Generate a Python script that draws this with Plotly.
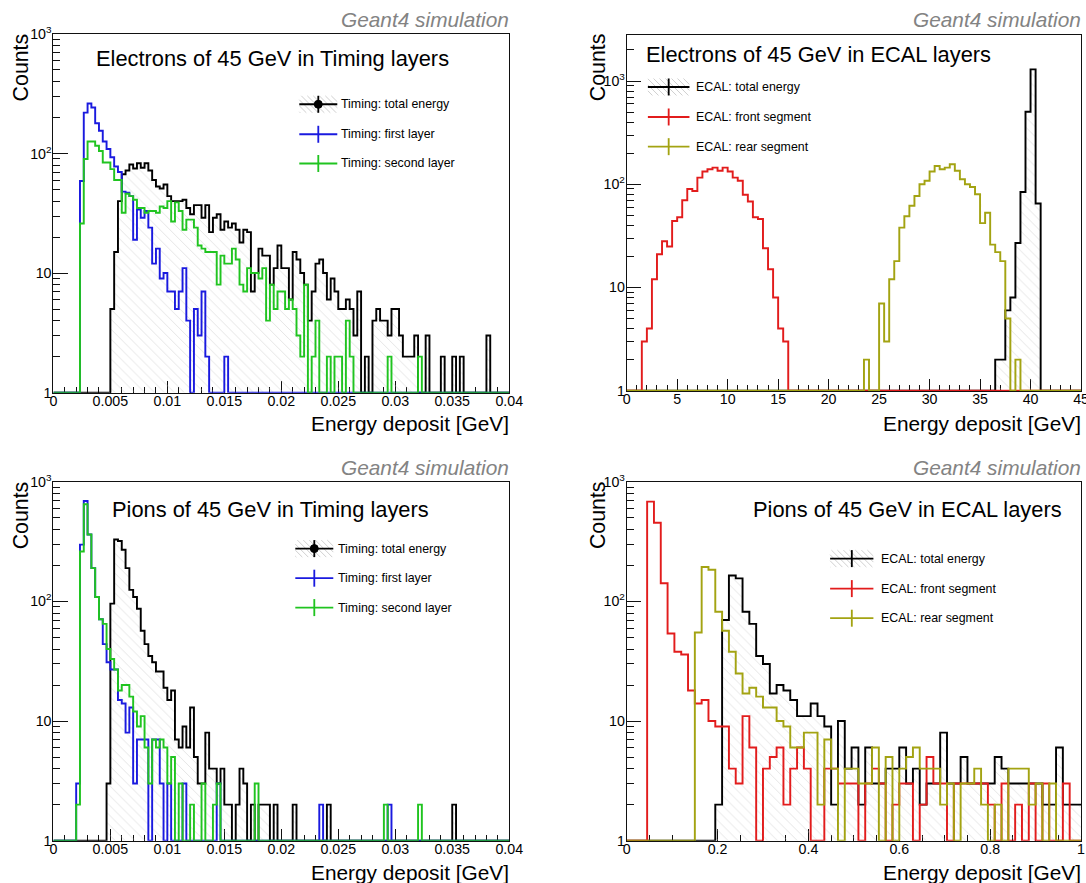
import numpy as np
import plotly.graph_objects as go

# Layout positions below are given in target-image pixels (1086x883).  The rendered page is
# observed to appear scaled by ~0.98 and shifted a few pixels, so target pixels are mapped
# to figure pixels through that measured transform.
SX, OXT = 0.984, 2.6
SY, OYT = 0.980, 9.0
W, H = 1102, 892
FONT = "Liberation Sans, Arial, Helvetica, sans-serif"

# ---------------------------------------------------------------- data
# Timing-layer histograms: 120 bins on [0, 0.04] GeV
TIM_BINS, TIM_MAX = 120, 0.04
# ECAL electrons: 90 bins on [0, 45] GeV
ECE_BINS, ECE_MAX = 90, 45.0
# ECAL pions: bins of 0.015 GeV, 67 bins (axis shown 0..1)
ECP_BINS, ECP_MAX = 67, 67 * 0.015

# Electrons 45 GeV, timing layers (counts per bin, starting bin index)
e_tim_total_start = 15
e_tim_total = [5, 15, 40, 67, 72, 81, 75, 83, 76, 83, 72, 60, 53, 51, 55, 44, 40, 40, 40, 41,
               35, 31, 37, 37, 29, 37, 22, 29, 31, 23, 27, 24, 26, 23, 18, 23, 22, 7, 10, 16,
               14, 14, 8, 11, 17, 11, 11, 6, 15, 13, 10, 8, 4, 7, 12, 13, 10, 6, 9, 7,
               5, 5, 6, 5, 3, 7, 0, 2, 0, 4, 5, 4, 4, 3, 5, 5, 3, 2, 2, 2,
               3, 0, 0, 3, 0, 0, 0, 2, 0, 0, 2, 0, 2, 0, 0, 0, 0, 0, 0, 3]
e_tim_first_start = 7
e_tim_first = [59, 220, 262, 243, 179, 155, 126, 109, 93, 78, 70, 48, 47, 44, 19, 34, 29, 33, 24, 12,
               16, 9, 10, 7, 7, 5, 7, 11, 4, 0, 5, 3, 7, 2, 0, 0, 0, 0, 2]
e_tim_second_start = 7
e_tim_second = [26, 90, 126, 126, 116, 105, 84, 84, 74, 60, 60, 32, 46, 44, 41, 35, 35, 32, 33, 33,
                32, 36, 35, 40, 27, 39, 33, 23, 28, 28, 24, 17, 16, 15, 15, 15, 8, 14, 12, 12,
                16, 13, 8, 7, 11, 10, 10, 9, 11, 4, 8, 5, 7, 7, 5, 6, 5, 3, 2, 8,
                0, 2, 4, 0, 0, 2, 0, 2, 2, 0, 4, 2, 0, 0, 0, 0, 0, 0, 0, 0,
                0, 2, 0, 0, 0, 0, 0, 0, 0, 2]

# Electrons 45 GeV, ECAL
e_ecal_total_start = 72
e_ecal_total = [1, 2, 2, 6, 8, 27, 84, 505, 1297, 65]
e_ecal_front_start = 3
e_ecal_front = [3, 4, 12, 21, 28, 25, 44, 48, 70, 90, 86, 116, 133, 140, 145, 135, 145, 133, 116, 108,
                79, 68, 48, 46, 24, 15, 8, 4, 3]
e_ecal_rear_start = 47
e_ecal_rear = [2, 0, 0, 7, 3, 12, 18, 38, 49, 62, 77, 100, 108, 133, 150, 140, 145, 156, 135, 112,
               100, 94, 80, 42, 53, 26, 22, 18, 5, 0, 2]

# Pions 45 GeV, timing layers
p_tim_total_start = 14
p_tim_total = [3, 96, 330, 320, 271, 190, 125, 109, 87, 57, 44, 35, 31, 26, 26, 19, 15, 18, 7, 6,
               9, 6, 13, 5, 3, 3, 8, 4, 4, 3, 4, 2, 2, 0, 2, 4, 3, 0, 2, 0,
               2, 2, 2, 0, 2, 0, 0, 0, 0, 2, 0, 0, 0, 0, 0, 0, 0, 0, 2, 0,
               0, 0, 0, 0, 0, 0, 0, 0, 0, 0, 0, 0, 0, 0, 0, 0, 0, 0, 0, 0,
               0, 0, 0, 0, 0, 0, 0, 0, 0, 0, 0, 2]
p_tim_first_start = 6
p_tim_first = [3, 299, 693, 363, 190, 109, 71, 44, 31, 27, 27, 15, 14, 8, 13, 3, 7, 7, 7, 0,
               7, 7, 3, 0, 3, 0, 0, 0, 3, 0, 0, 0, 0, 0, 0, 0, 0, 3, 0, 0,
               0, 0, 0, 0, 0, 0, 0, 0, 0, 0, 0, 0, 0, 0, 0, 0, 0, 0, 0, 0,
               0, 0, 0, 0, 2, 0, 0, 0, 0, 0, 0, 0, 0, 0, 0, 0, 0, 0, 0, 0,
               0, 0, 2]
p_tim_second_start = 6
p_tim_second = [2, 262, 650, 363, 190, 109, 71, 65, 40, 33, 27, 18, 20, 20, 16, 12, 9, 11, 6, 3,
                7, 6, 7, 6, 3, 5, 0, 3, 0, 0, 2, 0, 0, 3, 0, 0, 2, 3, 0, 0,
                0, 0, 0, 0, 0, 0, 0, 3, 0, 0, 0, 0, 0, 0, 0, 0, 0, 0, 0, 0,
                0, 0, 0, 0, 0, 0, 0, 0, 0, 0, 0, 0, 0, 0, 0, 0, 0, 0, 0, 0,
                0, 2, 0, 0, 0, 0, 0, 0, 0, 0, 2]

# Pions 45 GeV, ECAL
p_ecal_total_start = 13
p_ecal_total = [2, 70, 165, 156, 82, 65, 35, 30, 17, 20, 18, 15, 11, 11, 14, 11, 9, 2, 10, 4,
                6, 2, 6, 3, 3, 4, 4, 6, 3, 4, 2, 3, 3, 8, 3, 3, 5, 3, 3, 3,
                3, 5, 4, 3, 3, 3, 3, 3, 2, 2, 6, 2, 2, 2]
p_ecal_front_start = 3
p_ecal_front = [684, 455, 142, 54, 38, 36, 18, 14, 15, 10, 9, 9, 4, 3, 11, 6, 0, 4, 5, 6,
                2, 4, 6, 4, 0, 0, 4, 4, 3, 3, 3, 0, 3, 4, 3, 0, 2, 3, 3, 0,
                2, 5, 3, 3, 0, 3, 3, 3, 3, 3, 2, 0, 3, 0, 2, 0, 3, 0, 3, 0,
                0, 3, 0, 0]
p_ecal_rear_start = 10
p_ecal_rear = [55, 194, 184, 82, 57, 38, 25, 17, 19, 16, 13, 13, 10, 9, 6, 6, 8, 8, 2, 7,
               4, 0, 4, 4, 3, 3, 6, 0, 5, 0, 4, 5, 6, 4, 4, 4, 2, 3, 0, 3,
               3, 4, 2, 0, 2, 0, 4, 4, 4, 2, 3, 0, 3]

titles = ["Electrons of 45 GeV in Timing layers", "Electrons of 45 GeV in ECAL layers",
          "Pions of 45 GeV in Timing layers", "Pions of 45 GeV in ECAL layers"]
tim_labels = ["Timing: total energy", "Timing: first layer", "Timing: second layer"]
ecal_labels = ["ECAL: total energy", "ECAL: front segment", "ECAL: rear segment"]
x_title = "Energy deposit [GeV]"
y_title = "Counts"
tag = "Geant4 simulation"

# ---------------------------------------------------------------- styling
BLACK, BLUE, GREEN = "#000000", "#1a1adf", "#20c420"
RED, OLIVE = "#e21c1c", "#a3a312"
K = 1.0 / SX          # size compensation
LW = 1.9 * K


def fs(s):
    return s * K


def full(nbins, start, vals):
    a = np.zeros(nbins)
    a[start:start + len(vals)] = vals
    return a


def P(x):
    return min(max(((x - OXT) / SX) / W, 0.0), 1.0)


def Q(y):
    return min(max(1 - ((y - OYT) / SY) / H, 0.0), 1.0)


fig = go.Figure()

panels = [
    dict(ax="", nb=TIM_BINS, xmax=TIM_MAX, rng=[0, 0.04], dt=0.005, mdt=0.001, ytop=3.0,
         xd=[52, 508], yd=[33, 391.9],
         series=[(e_tim_total_start, e_tim_total, BLACK), (e_tim_first_start, e_tim_first, BLUE),
                 (e_tim_second_start, e_tim_second, GREEN)]),
    dict(ax="2", nb=ECE_BINS, xmax=ECE_MAX, rng=[0, 45], dt=5, mdt=1, ytop=3.446,
         xd=[625.5, 1080], yd=[34, 390],
         series=[(e_ecal_total_start, e_ecal_total, BLACK), (e_ecal_front_start, e_ecal_front, RED),
                 (e_ecal_rear_start, e_ecal_rear, OLIVE)]),
    dict(ax="3", nb=TIM_BINS, xmax=TIM_MAX, rng=[0, 0.04], dt=0.005, mdt=0.001, ytop=3.0,
         xd=[52, 508], yd=[481, 840],
         series=[(p_tim_total_start, p_tim_total, BLACK), (p_tim_first_start, p_tim_first, BLUE),
                 (p_tim_second_start, p_tim_second, GREEN)]),
    dict(ax="4", nb=ECP_BINS, xmax=ECP_MAX, rng=[0, 1], dt=0.2, mdt=0.05, ytop=3.0,
         xd=[625.5, 1080], yd=[481, 840],
         series=[(p_ecal_total_start, p_ecal_total, BLACK), (p_ecal_front_start, p_ecal_front, RED),
                 (p_ecal_rear_start, p_ecal_rear, OLIVE)]),
]

layout_axes = {}
for p in panels:
    a = p["ax"]
    xa, ya = "x" + a, "y" + a
    edges = np.linspace(0, p["xmax"], p["nb"] + 1)
    # baseline for hatched fill
    fig.add_trace(go.Scatter(x=[edges[0], edges[-1]], y=[1, 1], mode="lines",
                             line=dict(width=0, color="rgba(0,0,0,0)"), xaxis=xa, yaxis=ya,
                             showlegend=False, hoverinfo="skip"))
    for i, (start, vals, col) in enumerate(p["series"]):
        c = np.maximum(full(p["nb"], start, vals), 1.0)
        xs = np.concatenate([[edges[0]], edges[:-1], [edges[-1], edges[-1]]])
        ys = np.concatenate([[1.0], c, [c[-1], 1.0]])
        kw = {}
        if i == 0:
            kw = dict(fill="tonexty", fillcolor="rgba(0,0,0,0)",
                      fillpattern=dict(shape="\\", size=7, solidity=0.13, fgcolor="#c6c6c6",
                                       bgcolor="rgba(0,0,0,0)"))
        fig.add_trace(go.Scatter(x=xs, y=ys, mode="lines", line=dict(color=col, width=LW, shape="hv"),
                                 xaxis=xa, yaxis=ya, showlegend=False, hoverinfo="skip", **kw))

    ytop = p["ytop"]
    minor_vals = [m * 10 ** d for d in range(0, 4) for m in range(2, 10) if np.log10(m * 10 ** d) < ytop]
    layout_axes["xaxis" + a] = dict(
        domain=[P(p["xd"][0]), P(p["xd"][1])], range=p["rng"], anchor=ya,
        showline=True, linecolor="#111", linewidth=1, mirror=True, showgrid=False, zeroline=False,
        ticks="inside", ticklen=12 * K, tickcolor="#111", tick0=0, dtick=p["dt"],
        minor=dict(ticks="inside", ticklen=6 * K, tickcolor="#111", tick0=0, dtick=p["mdt"], showgrid=False),
        ticklabelstandoff=-5,
        tickfont=dict(family=FONT, size=fs(14), color="black"), layer="below traces")
    layout_axes["yaxis" + a] = dict(
        domain=[Q(p["yd"][1]), Q(p["yd"][0])], type="log", range=[-0.002, ytop], anchor=xa,
        showline=True, linecolor="#111", linewidth=1, mirror=True, showgrid=False, zeroline=False,
        ticks="inside", ticklen=14 * K, tickcolor="#111",
        tickvals=[1, 10, 100, 1000], ticktext=["1", "10", "10<sup>2</sup>", "10<sup>3</sup>"],
        minor=dict(ticks="inside", ticklen=7 * K, tickcolor="#111", tickvals=minor_vals, showgrid=False),
        ticklabelstandoff=-2,
        tickfont=dict(family=FONT, size=fs(14), color="black"), layer="below traces")

fig.update_layout(**layout_axes)

# ---------------------------------------------------------------- text & legends
shapes, annots = [], []


def text(x, y, s, size, anchor="left", color="black", italic=False, angle=0):
    f = dict(family=FONT, size=fs(size), color=color)
    if italic:
        f["style"] = "italic"
    annots.append(dict(x=P(x), y=Q(y), xref="paper", yref="paper", text=s, showarrow=False,
                       xanchor=anchor, yanchor="middle", font=f, textangle=angle,
                       borderpad=0, borderwidth=0))


def hatch_box(x0, y0, x1, y1, step=6.0):
    segs = []
    c = y0 - x1
    while c <= y1 - x0:
        xa = max(x0, y0 - c)
        xb = min(x1, y1 - c)
        if xb > xa:
            segs.append("M %.4f %.4f L %.4f %.4f" % (P(xa), Q(xa + c), P(xb), Q(xb + c)))
        c += step
    shapes.append(dict(type="path", path=" ".join(segs), xref="paper", yref="paper",
                       line=dict(color="#d0d0d0", width=1)))


def legend(x0, x1, xc, ys, xt, labels, colors, dot):
    for i, (y, lab, col) in enumerate(zip(ys, labels, colors)):
        if i == 0:
            hatch_box(x0, y - 8.5, x1, y + 8.5)
        shapes.append(dict(type="line", xref="paper", yref="paper", x0=P(x0), x1=P(x1), y0=Q(y), y1=Q(y),
                           line=dict(color=col, width=1.8 * K)))
        shapes.append(dict(type="line", xref="paper", yref="paper", x0=P(xc), x1=P(xc), y0=Q(y - 8.5),
                           y1=Q(y + 8.5), line=dict(color=col, width=1.8 * K)))
        if i == 0 and dot:
            shapes.append(dict(type="circle", xref="paper", yref="paper", x0=P(xc - 4), x1=P(xc + 4),
                               y0=Q(y - 4), y1=Q(y + 4), fillcolor=col, line=dict(color=col, width=1)))
        text(xt - 3, y, lab, 12.2)


legend(298, 336, 317, [103.3, 133.3, 162.5], 343, tim_labels, [BLACK, BLUE, GREEN], True)
legend(646.7, 688.3, 667.5, [86, 116, 145.7], 698.3, ecal_labels, [BLACK, RED, OLIVE], False)
legend(294, 332, 313, [547.7, 577.3, 606.7], 340, tim_labels, [BLACK, BLUE, GREEN], True)
legend(829, 872.3, 850.7, [557.7, 587.7, 617.3], 882.7, ecal_labels, [BLACK, RED, OLIVE], False)

text(95, 58, titles[0], 21.5)
text(644.5, 54, titles[1], 21.5)
text(110.5, 509, titles[2], 21.5)
text(751.5, 509, titles[3], 21.5)

for xr, yt in [(508, 19), (1080, 19), (508, 467), (1080, 467)]:
    text(xr, yt, tag, 20.5, anchor="right", color="#838383", italic=True)
for xr, yt in [(508, 423), (1080, 423), (508, 872), (1080, 872)]:
    text(xr, yt, x_title, 20.5, anchor="right")
for xc, yc in [(20, 66), (597, 66), (20, 514), (597, 514)]:
    annots.append(dict(x=P(xc), y=Q(yc), xref="paper", yref="paper", text=y_title, showarrow=False,
                       xanchor="center", yanchor="middle", textangle=-90, borderpad=0, borderwidth=0,
                       font=dict(family=FONT, size=fs(21), color="black")))

fig.update_layout(width=W, height=H, margin=dict(l=0, r=0, t=0, b=0), paper_bgcolor="white",
                  plot_bgcolor="white", showlegend=False, shapes=shapes, annotations=annots)

fig.write_html("out.html", config={"displayModeBar": False},
               post_script="document.body.style.margin='0';document.body.style.overflow='hidden';")
